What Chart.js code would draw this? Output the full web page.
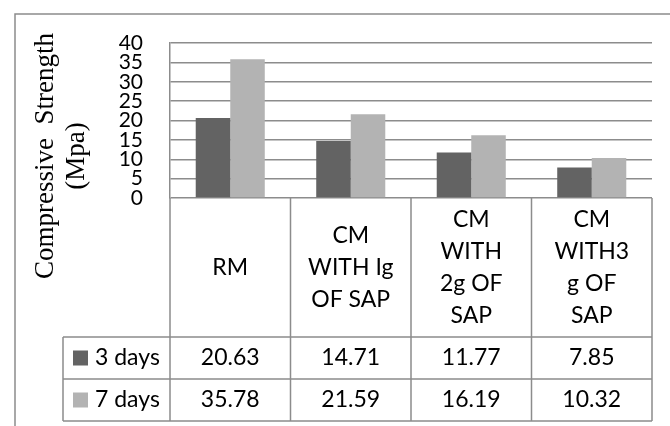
<!DOCTYPE html>
<html>
<head>
<meta charset="utf-8">
<script src="https://cdn.jsdelivr.net/npm/chart.js@4/dist/chart.umd.min.js"></script>
<style>
  html, body { margin: 0; padding: 0; background: #fff; }
</style>
</head>
<body>
<canvas id="chart" width="670" height="426"></canvas>
<script>
// data
var categories = ['RM', ['CM', 'WITH Ig', 'OF SAP'], ['CM', 'WITH', '2g OF', 'SAP'], ['CM', 'WITH3', 'g OF', 'SAP']];
var seriesNames = ['3 days', '7 days'];
var days3 = [20.63, 14.71, 11.77, 7.85];
var days7 = [35.78, 21.59, 16.19, 10.32];
var yMin = 0, yMax = 40, yStep = 5;
var axisTitle = ['Compressive  Strength', '(Mpa)'];

var colors = ['#636363', '#b3b3b3'];
var lineColor = '#8c8c8c';
var sansFont = 'Lato, "Open Sans", sans-serif';

// draws the outer frame, the rotated axis title and the data table under the plot
var tablePlugin = {
  id: 'dataTable',
  afterDraw: function(chart) {
    var ctx = chart.ctx;
    var area = chart.chartArea;
    var xs = chart.scales.x;
    var n = categories.length;
    var colW = (area.right - area.left) / n;
    var top = area.bottom;
    var headBottom = top + 139;
    var rowH = 42;
    var legLeft = area.left - 107;
    var bottom = headBottom + rowH * 2;

    ctx.save();
    ctx.strokeStyle = lineColor;
    ctx.lineWidth = 1.5;

    // outer frame (cut off at the right and bottom like the picture)
    ctx.beginPath();
    ctx.moveTo(15, 426);
    ctx.lineTo(15, 14);
    ctx.lineTo(670, 14);
    ctx.stroke();

    // table grid
    ctx.beginPath();
    for (var i = 0; i <= n; i++) {
      var x = area.left + colW * i;
      ctx.moveTo(x, top);
      ctx.lineTo(x, bottom);
    }
    for (var r = 0; r < 3; r++) {
      ctx.moveTo(legLeft, headBottom + rowH * r);
      ctx.lineTo(area.right, headBottom + rowH * r);
    }
    ctx.moveTo(legLeft, headBottom);
    ctx.lineTo(legLeft, bottom);
    ctx.stroke();

    ctx.fillStyle = '#000';
    ctx.textAlign = 'center';
    ctx.textBaseline = 'middle';
    ctx.font = '23px ' + sansFont;

    // category header cells
    var headMid = (top + headBottom) / 2;
    for (var c = 0; c < n; c++) {
      var cx = xs.getPixelForValue(c);
      var lines = [].concat(categories[c]);
      var lh = 32;
      var y0 = headMid - (lines.length - 1) * lh / 2;
      for (var k = 0; k < lines.length; k++) {
        ctx.fillText(lines[k], cx, y0 + k * lh);
      }
    }

    // value rows with legend keys
    chart.data.datasets.forEach(function(ds, s) {
      var rowMid = headBottom + rowH * s + rowH / 2;
      ds.data.forEach(function(v, c) {
        ctx.fillText(v.toFixed(2), xs.getPixelForValue(c), rowMid);
      });
      ctx.fillStyle = ds.backgroundColor;
      ctx.fillRect(legLeft + 10, rowMid - 7.5, 15, 15);
      ctx.fillStyle = '#000';
      ctx.textAlign = 'left';
      ctx.fillText(ds.label, legLeft + 32, rowMid);
      ctx.textAlign = 'center';
    });

    // y axis title, two rotated lines
    ctx.translate(46, 156);
    ctx.rotate(-Math.PI / 2);
    ctx.font = '27px "Liberation Serif", serif';
    ctx.fillText(axisTitle[0], 0, 0);
    ctx.fillText(axisTitle[1], 0, 31);
    ctx.restore();
  }
};

var ctx = document.getElementById('chart');
var myChart = new Chart(ctx, {
  type: 'bar',
  data: {
    labels: categories,
    datasets: [{
      label: seriesNames[0],
      data: days3,
      backgroundColor: colors[0]
    }, {
      label: seriesNames[1],
      data: days7,
      backgroundColor: colors[1]
    }]
  },
  options: {
    responsive: false,
    animation: false,
    devicePixelRatio: 1,
    layout: { padding: { left: 0, top: 43, right: 18, bottom: 228 } },
    datasets: { bar: { categoryPercentage: 0.573, barPercentage: 1 } },
    plugins: { legend: { display: false }, tooltip: { enabled: false } },
    scales: {
      x: { display: false },
      y: {
        min: yMin,
        max: yMax,
        afterFit: function(scale) { scale.width = 170; },
        ticks: {
          stepSize: yStep,
          autoSkip: false,
          padding: 27,
          color: '#000',
          font: { family: sansFont, size: 21, lineHeight: 1 }
        },
        grid: { color: lineColor, lineWidth: 1.5, drawTicks: false },
        border: { display: true, color: lineColor, width: 1.5 }
      }
    }
  },
  plugins: [tablePlugin]
});
</script>
</body>
</html>
